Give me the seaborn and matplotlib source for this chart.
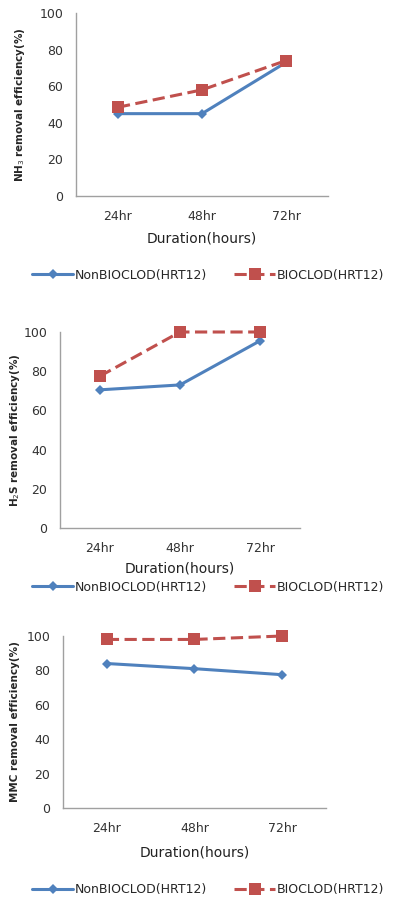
import pandas as pd
import seaborn as sns
import matplotlib.pyplot as plt

# data
durations = ["24hr", "48hr", "72hr"]
nh3_non = [45, 45, 73]
nh3_bio = [48.5, 58, 74]
h2s_non = [70.5, 73, 95.5]
h2s_bio = [77.5, 100, 100]
mmc_non = [84, 81, 77.5]
mmc_bio = [98, 98, 100]

ylabels = ["NH$_3$ removal efficiency(%)", "H$_2$S removal efficiency(%)",
           "MMC removal efficiency(%)"]
series_names = ["NonBIOCLOD(HRT12)", "BIOCLOD(HRT12)"]

sns.set_style("white")
plt.rcParams['font.family'] = ['DejaVu Sans']

W, H = 416, 898
fig = plt.figure(figsize=(W / 100, H / 100), dpi=100)

# panel boxes in pixels: left, top, right, bottom; ylabel x; xlabel y; legend y
panels = [
    dict(box=(76, 13, 328, 196), ylab_x=20, xlab_y=238, leg_y=275,
         non=nh3_non, bio=nh3_bio, ylabel=ylabels[0]),
    dict(box=(60, 332, 300, 528), ylab_x=15, xlab_y=568, leg_y=587,
         non=h2s_non, bio=h2s_bio, ylabel=ylabels[1]),
    dict(box=(63, 636, 326, 808), ylab_x=15, xlab_y=852, leg_y=890,
         non=mmc_non, bio=mmc_bio, ylabel=ylabels[2]),
]

blue = "#4F81BD"
red = "#C0504D"

for p in panels:
    l, t, r, b = p["box"]
    ax = fig.add_axes([l / W, 1 - b / H, (r - l) / W, (b - t) / H])
    df = pd.DataFrame({
        "Duration": durations * 2,
        "value": p["non"] + p["bio"],
        "series": [series_names[0]] * 3 + [series_names[1]] * 3,
    })
    sns.lineplot(data=df, x="Duration", y="value", hue="series", style="series",
                 palette=[blue, red], dashes=[(None, None), (4, 1.8)],
                 markers=["D", "s"], linewidth=2.2, ax=ax, legend=False)
    # markers sized separately to match the reference
    for line, ms in zip(ax.lines, [5.5, 8]):
        line.set_markersize(ms)
        line.set_markeredgewidth(0)
        line.set_markerfacecolor(line.get_color())
        line.set_clip_on(False)
    ax.set_xlim(-0.5, 2.5)
    ax.set_ylim(0, 100)
    ax.set_yticks([0, 20, 40, 60, 80, 100])
    ax.tick_params(axis="both", labelsize=9, length=0, colors="#333333")
    ax.tick_params(axis="y", pad=9)
    ax.tick_params(axis="x", pad=10)
    for s in ["top", "right"]:
        ax.spines[s].set_visible(False)
    for s in ["left", "bottom"]:
        ax.spines[s].set_color("#A0A0A0")
        ax.spines[s].set_linewidth(1)
    ax.set_xlabel("")
    ax.set_ylabel("")
    fig.text(p["ylab_x"] / W, 1 - ((t + b) / 2) / H, p["ylabel"], rotation=90,
             ha="center", va="center", fontsize=7.5, fontweight="bold")
    fig.text(((l + r) / 2) / W, 1 - p["xlab_y"] / H, "Duration(hours)",
             ha="center", va="center", fontsize=10, color="#222222")
    fig.legend(handles=ax.lines[:2], labels=series_names, ncol=2, frameon=False,
               loc="center", bbox_to_anchor=(0.5, 1 - p["leg_y"] / H),
               fontsize=9, handlelength=3.3, columnspacing=2.2, numpoints=1,
               handletextpad=0.1, borderpad=0)

fig.savefig("out.png", dpi=100)
plt.close()
